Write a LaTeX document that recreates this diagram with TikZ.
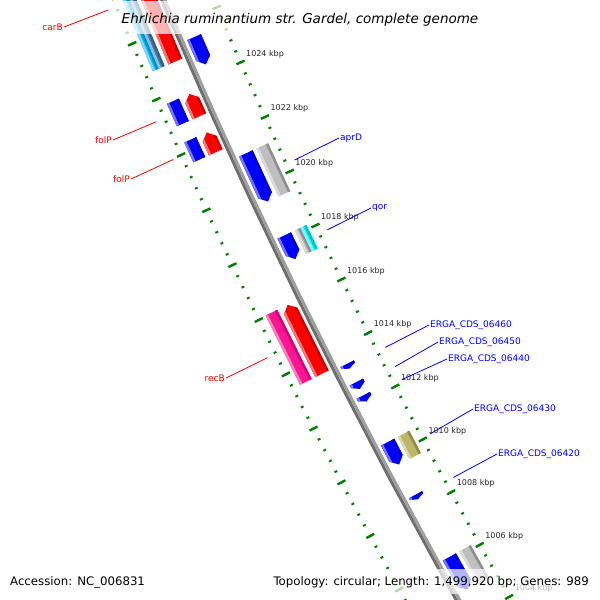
\documentclass[tikz,border=0pt]{standalone}
\usepackage{fontspec}
\setmainfont{DejaVu Sans}
\usepackage{tikz}
\definecolor{tickgreen}{RGB}{0,128,0}
\definecolor{gblue}{RGB}{0,0,255}
\definecolor{gred}{RGB}{255,0,0}
\definecolor{ggray}{RGB}{190,190,190}
\definecolor{gcyan}{RGB}{0,255,255}
\definecolor{gsky}{RGB}{0,191,255}
\definecolor{gsteel}{RGB}{70,130,180}
\definecolor{gpink}{RGB}{255,20,147}
\definecolor{golive}{RGB}{189,183,107}

\begin{document}
\begin{tikzpicture}[x=1pt,y=-1pt,
  minor tick/.style={draw=tickgreen, line width=2pt},
  major tick/.style={draw=tickgreen, line width=2.4pt},
  kbp label/.style={font=\fontsize{8}{9}\selectfont, text=black!85, inner sep=0pt, anchor=west},
  gene label/.style={font=\fontsize{9}{10}\selectfont, inner sep=1pt},
  leader/.style={line width=0.8pt},
  fade box/.style={fill=white, fill opacity=0.7},
  foot text/.style={font=\fontsize{11.75}{13}\selectfont, inner sep=0pt}]
\path[use as bounding box, fill=white] (0,0) rectangle (600,600);
\clip (0,0) rectangle (600,600);

\begin{scope}[shift={(5688,-2340)}]
  % tick rings
  \foreach \mm in {2508,...,2572}{
    \pgfmathsetmacro\thk{155.05+0.1152*(\mm-2550)}
    \draw[minor tick] (\thk:6044.5) -- (\thk:6047.5);
    \draw[minor tick] (\thk:5952.5) -- (\thk:5955.5);
  }
  \foreach \kk in {1004,1006,...,1028}{
    \pgfmathsetmacro\thk{155.05+0.288*(\kk-1020)}
    \draw[major tick] (\thk:6041.5) -- (\thk:6050.5);
    \draw[major tick] (\thk:5949.5) -- (\thk:5958.5);
  }
  \foreach \kk in {1004,1006,...,1024}{
    \pgfmathsetmacro\thk{155.05+0.288*(\kk-1020)}
    \path (\thk:5954) ++(5.5,-8.5) node[kbp label] (kbp\kk) {\kk\ kbp};
  }

  % backbone
  \draw[line width=3pt, black!57] plot[domain=150.1:158, samples=30] (\x:6001.5);
  \draw[line width=3pt, black!38] plot[domain=150.1:158, samples=30] (\x:5998.5);

  % genes: from/to kbp, inner/outer radius, colour, 0 plain 1 reverse 2 forward
  \foreach \ka/\kb/\ri/\ro/\col/\arw in {
    1024.40/1025.39/5979/5994/gblue/1,
    1019.40/1021.16/5979/5994/gblue/1,
    1017.28/1018.15/5979/5994/gblue/1,
    1013.22/1013.40/5979/5994/gblue/1,
    1012.46/1012.72/5979/5994/gblue/1,
    1011.99/1012.22/5979/5994/gblue/1,
    1009.63/1010.47/5979/5994/gblue/1,
    1008.32/1008.49/5979/5994/gblue/1,
    1004.90/1006.14/5979/5994/gblue/1,
    1019.40/1021.16/5962/5975/ggray/0,
    1017.28/1018.15/5968.5/5975/ggray/0,
    1017.28/1018.15/5962/5968.5/gcyan/0,
    1009.63/1010.47/5962/5975/golive/0,
    1004.90/1006.14/5962/5975/ggray/0,
    1024.90/1029.80/6006/6021/gred/2,
    1022.92/1023.73/6006/6021/gred/2,
    1021.61/1022.33/6006/6021/gred/2,
    1013.48/1016.03/6006/6021/gred/2,
    1024.90/1029.80/6031.5/6038/gsky/0,
    1024.90/1029.80/6025/6031.5/gsteel/0,
    1022.92/1023.73/6025/6038/gblue/0,
    1021.61/1022.33/6025/6038/gblue/0,
    1013.48/1016.03/6025/6038/gpink/0}{
    \pgfmathsetmacro\tha{155.05+0.288*(\ka-1020)}
    \pgfmathsetmacro\thb{155.05+0.288*(\kb-1020)}
    \pgfmathsetmacro\rmid{(\ri+\ro)/2}
    \pgfmathsetmacro\hh{min(0.0668,0.6*(\thb-\tha))}
    \pgfmathsetmacro\thc{\tha+\hh}
    \pgfmathsetmacro\thd{\thb-\hh}
    \begin{scope}
      \ifcase\arw\relax
        \fill[\col] (\tha:\ri) -- (\thb:\ri) -- (\thb:\ro) -- (\tha:\ro) -- cycle;
        \clip (\tha:\ri) -- (\thb:\ri) -- (\thb:\ro) -- (\tha:\ro) -- cycle;
      \or
        \fill[\col] (\tha:\rmid) -- (\thc:\ri) -- (\thb:\ri) -- (\thb:\ro) -- (\thc:\ro) -- cycle;
        \clip (\tha:\rmid) -- (\thc:\ri) -- (\thb:\ri) -- (\thb:\ro) -- (\thc:\ro) -- cycle;
      \or
        \fill[\col] (\thb:\rmid) -- (\thd:\ro) -- (\tha:\ro) -- (\tha:\ri) -- (\thd:\ri) -- cycle;
        \clip (\thb:\rmid) -- (\thd:\ro) -- (\tha:\ro) -- (\tha:\ri) -- (\thd:\ri) -- cycle;
      \fi
      \draw[\col!55!white, line width=5pt] (\tha:\ro) -- (\thb:\ro);
      \draw[\col!75!black, line width=5pt] (\tha:\ri) -- (\thb:\ri);
    \end{scope}
  }

  % leader ends
  \foreach \nm/\kk/\rr in {carB/1027.33/6055, folPa/1023.33/6055, folPb/1021.97/6055,
      recB/1014.76/6055, aprD/1020.28/5945, qor/1017.70/5945, erga60/1013.31/5945,
      erga50/1012.59/5945, erga40/1012.10/5945, erga30/1010.05/5945, erga20/1008.40/5945}{
    \pgfmathsetmacro\thk{155.05+0.288*(\kk-1020)}
    \coordinate (end\nm) at (\thk:\rr);
  }
\end{scope}

% gene labels
\node[gene label, text=gred, anchor=east] (carB) at (64,27) {carB};
\node[gene label, text=gred, anchor=east] (folPa) at (113,140) {folP};
\node[gene label, text=gred, anchor=east] (folPb) at (131,179) {folP};
\node[gene label, text=gred, anchor=east] (recB) at (226,378) {recB};
\node[gene label, text=gblue, anchor=west] (aprD) at (339,138) {aprD};
\node[gene label, text=gblue, anchor=west] (qor) at (371,208) {qor};
\node[gene label, text=gblue, anchor=west] (erga60) at (429,325) {ERGA\_CDS\_06460};
\node[gene label, text=gblue, anchor=west] (erga50) at (438,342) {ERGA\_CDS\_06450};
\node[gene label, text=gblue, anchor=west] (erga40) at (447,359) {ERGA\_CDS\_06440};
\node[gene label, text=gblue, anchor=west] (erga30) at (473,409) {ERGA\_CDS\_06430};
\node[gene label, text=gblue, anchor=west] (erga20) at (497,454) {ERGA\_CDS\_06420};

\foreach \nm/\cl/\an in {carB/gred/east, folPa/gred/east, folPb/gred/east, recB/gred/east,
    aprD/gblue/west, qor/gblue/west, erga60/gblue/west, erga50/gblue/west,
    erga40/gblue/west, erga30/gblue/west, erga20/gblue/west}
  \draw[leader, \cl] (end\nm) -- (\nm.\an);

% title and footer
\fill[fade box] (116,1) rectangle (484,34);
\fill[fade box] (4,569) rectangle (150,594);
\fill[fade box] (268,569) rectangle (596,594);
\node[anchor=base, inner sep=0pt, font=\fontsize{13.5}{16}\selectfont\itshape] (title) at (300,23)
  {Ehrlichia ruminantium str. Gardel, complete genome};
\node[foot text, anchor=base west] (accession) at (10,585.5) {Accession: NC\_006831};
\node[foot text, anchor=base east] (topology) at (589,585.5)
  {Topology: circular; Length: 1,499,920 bp; Genes: 989};
\end{tikzpicture}
\end{document}
